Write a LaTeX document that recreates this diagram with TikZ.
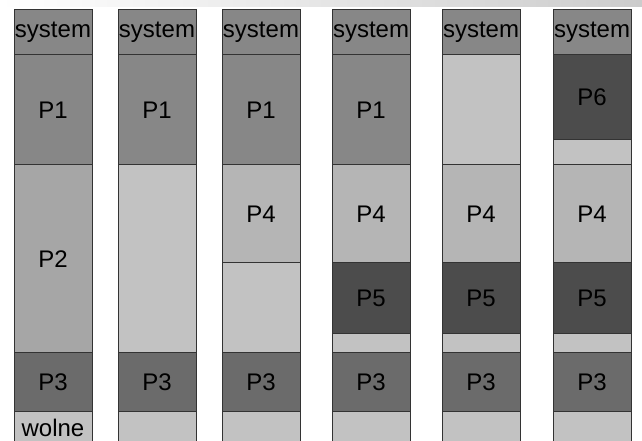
\documentclass[tikz,border=0pt]{standalone}
\usepackage{fontspec}
\setmainfont{Liberation Sans}
\usetikzlibrary{positioning}

\definecolor{sysgray}{gray}{0.53}
\definecolor{freegray}{gray}{0.76}

\tikzset{
  blok/.style 2 args={draw=black!80, line width=1pt, fill=#1, minimum height=#2,
    minimum width=78pt, inner sep=0pt, outer sep=0pt,
    font=\fontsize{24}{24}\selectfont},
  sys/.style={blok={sysgray}{45pt}, anchor=north west},
  wolna/.style={blok={freegray}{#1}},
}

\begin{document}
\begin{tikzpicture}[x=1pt,y=1pt]
  \clip (0,0) rectangle (642,441);
  \shade[left color=white, right color=black!20] (0,434) rectangle (642,441);

  % column 1
  \node[sys] (s1) at (14,431) {system};
  \node[blok={sysgray}{110pt}, below=0pt of s1] (a1) {P1};
  \node[blok={black!35}{188pt}, below=0pt of a1] (b1) {P2};
  \node[blok={black!58}{59pt}, below=0pt of b1] (c1) {P3};
  \node[wolna=32pt, below=0pt of c1] (d1) {wolne};

  % column 2
  \node[sys] (s2) at (118,431) {system};
  \node[blok={sysgray}{110pt}, below=0pt of s2] (a2) {P1};
  \node[wolna=188pt, below=0pt of a2] (b2) {};
  \node[blok={black!58}{59pt}, below=0pt of b2] (c2) {P3};
  \node[wolna=32pt, below=0pt of c2] (d2) {};

  % column 3
  \node[sys] (s3) at (222,431) {system};
  \node[blok={sysgray}{110pt}, below=0pt of s3] (a3) {P1};
  \node[blok={black!29}{98pt}, below=0pt of a3] (e3) {P4};
  \node[wolna=90pt, below=0pt of e3] (b3) {};
  \node[blok={black!58}{59pt}, below=0pt of b3] (c3) {P3};
  \node[wolna=32pt, below=0pt of c3] (d3) {};

  % column 4
  \node[sys] (s4) at (332,431) {system};
  \node[blok={sysgray}{110pt}, below=0pt of s4] (a4) {P1};
  \node[blok={black!29}{98pt}, below=0pt of a4] (e4) {P4};
  \node[blok={black!70}{71pt}, below=0pt of e4] (f4) {P5};
  \node[wolna=19pt, below=0pt of f4] (b4) {};
  \node[blok={black!58}{59pt}, below=0pt of b4] (c4) {P3};
  \node[wolna=32pt, below=0pt of c4] (d4) {};

  % column 5
  \node[sys] (s5) at (442,431) {system};
  \node[wolna=110pt, below=0pt of s5] (a5) {};
  \node[blok={black!29}{98pt}, below=0pt of a5] (e5) {P4};
  \node[blok={black!70}{71pt}, below=0pt of e5] (f5) {P5};
  \node[wolna=19pt, below=0pt of f5] (b5) {};
  \node[blok={black!58}{59pt}, below=0pt of b5] (c5) {P3};
  \node[wolna=32pt, below=0pt of c5] (d5) {};

  % column 6
  \node[sys] (s6) at (553,431) {system};
  \node[blok={black!70}{85pt}, below=0pt of s6] (g6) {P6};
  \node[wolna=25pt, below=0pt of g6] (a6) {};
  \node[blok={black!29}{98pt}, below=0pt of a6] (e6) {P4};
  \node[blok={black!70}{71pt}, below=0pt of e6] (f6) {P5};
  \node[wolna=19pt, below=0pt of f6] (b6) {};
  \node[blok={black!58}{59pt}, below=0pt of b6] (c6) {P3};
  \node[wolna=32pt, below=0pt of c6] (d6) {};
\end{tikzpicture}
\end{document}
